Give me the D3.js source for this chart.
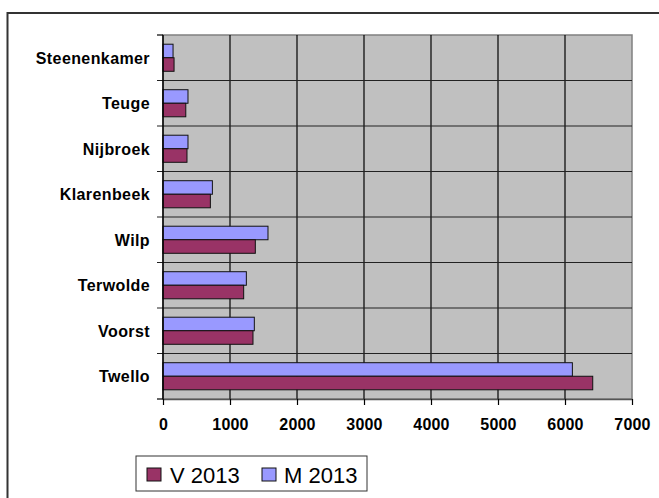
<!DOCTYPE html>
<html>
<head>
<meta charset="utf-8">
<script src="https://cdn.jsdelivr.net/npm/d3@7"></script>
<style>
  body { margin: 0; background: #fff; }
  svg { display: block; font-family: "Liberation Sans", Arial, sans-serif; }
</style>
</head>
<body>
<div class="chart"></div>
<script>
// categories top to bottom, as in the picture
const places = ["Steenenkamer", "Teuge", "Nijbroek", "Klarenbeek", "Wilp", "Terwolde", "Voorst", "Twello"];
const v2013 = [165, 340, 358, 707, 1378, 1204, 1343, 6414];
const m2013 = [150, 373, 373, 737, 1567, 1244, 1363, 6110];
const xTicks = [0, 1000, 2000, 3000, 4000, 5000, 6000, 7000];
const seriesNames = ["M 2013", "V 2013"];

const W = 659, H = 498;
const plot = { left: 163, right: 632, top: 35, bottom: 399 };

const svg = d3.select(".chart").append("svg")
  .attr("width", W)
  .attr("height", H);

// outer chart frame (right and bottom run off the picture)
svg.append("rect")
  .attr("x", 7.5).attr("y", 13)
  .attr("width", W + 10).attr("height", H + 10)
  .attr("fill", "none").attr("stroke", "#333").attr("stroke-width", 2);

const x = d3.scaleLinear().domain([0, 7000]).range([plot.left, plot.right]);
const y = d3.scaleBand().domain(places).range([plot.top, plot.bottom]);
const ySub = d3.scaleBand().domain(seriesNames).range([0, y.bandwidth()]).paddingOuter(0.68);

const colors = { "V 2013": "#993366", "M 2013": "#9999FF" };
const rows = places.map((p, i) => ({ place: p, "V 2013": v2013[i], "M 2013": m2013[i] }));

// plot background
svg.append("rect")
  .attr("x", plot.left).attr("y", plot.top)
  .attr("width", plot.right - plot.left).attr("height", plot.bottom - plot.top)
  .attr("fill", "#c0c0c0").attr("stroke", "#808080").attr("stroke-width", 1.5);

// vertical gridlines
svg.append("g").selectAll("line")
  .data(xTicks.slice(1, -1))
  .join("line")
  .attr("x1", d => x(d)).attr("x2", d => x(d))
  .attr("y1", plot.top).attr("y2", plot.bottom)
  .attr("stroke", "#000").attr("stroke-width", 1.2);

// horizontal lines between categories
svg.append("g").selectAll("line")
  .data(places.slice(1))
  .join("line")
  .attr("x1", plot.left - 6).attr("x2", plot.right)
  .attr("y1", d => y(d)).attr("y2", d => y(d))
  .attr("stroke", "#222").attr("stroke-width", 1.2);

// bars
const groups = svg.append("g").selectAll("g")
  .data(rows)
  .join("g")
  .attr("transform", d => `translate(0,${y(d.place)})`);

groups.selectAll("rect")
  .data(d => seriesNames.map(s => ({ s, v: d[s] })))
  .join("rect")
  .attr("x", x(0))
  .attr("y", d => ySub(d.s))
  .attr("width", d => x(d.v) - x(0))
  .attr("height", ySub.bandwidth())
  .attr("fill", d => colors[d.s])
  .attr("stroke", "#111").attr("stroke-width", 1);

// y axis
const yAxis = svg.append("g")
  .attr("transform", `translate(${plot.left},0)`);
yAxis.append("line")
  .attr("y1", plot.top).attr("y2", plot.bottom)
  .attr("stroke", "#000").attr("stroke-width", 1.5);
yAxis.selectAll("line.tk")
  .data([plot.top, plot.bottom])
  .join("line").attr("class", "tk")
  .attr("x1", -6).attr("x2", 0)
  .attr("y1", d => d).attr("y2", d => d)
  .attr("stroke", "#000").attr("stroke-width", 1.2);
yAxis.selectAll("text")
  .data(places)
  .join("text")
  .attr("x", -13)
  .attr("y", d => y(d) + y.bandwidth() / 2)
  .attr("dy", "0.36em")
  .attr("text-anchor", "end")
  .style("font-size", "16px").style("font-weight", "bold")
  .style("letter-spacing", "0.4px")
  .text(d => d);

// x axis
const xAxis = svg.append("g")
  .attr("transform", `translate(0,${plot.bottom})`)
  .call(d3.axisBottom(x).tickValues(xTicks).tickFormat(d3.format("d"))
    .tickSize(6).tickPadding(14).tickSizeOuter(0));
xAxis.select(".domain").attr("stroke", "#555").attr("stroke-width", 1.5);
xAxis.selectAll(".tick line").attr("stroke", "#000").attr("stroke-width", 1.2);
xAxis.selectAll(".tick text")
  .attr("fill", "#000")
  .style("font-family", "'Liberation Sans', Arial, sans-serif")
  .style("font-size", "16px").style("font-weight", "bold")
  .style("letter-spacing", "0.2px");

// legend
const legend = svg.append("g").attr("transform", "translate(136,456)");
legend.append("rect")
  .attr("width", 231).attr("height", 35)
  .attr("fill", "#fff").attr("stroke", "#333").attr("stroke-width", 1);
const legendItems = [
  { name: "V 2013", sx: 11, tx: 34 },
  { name: "M 2013", sx: 126, tx: 148 }
];
const li = legend.selectAll("g.item")
  .data(legendItems)
  .join("g").attr("class", "item");
li.append("rect")
  .attr("x", d => d.sx).attr("y", 12)
  .attr("width", 14).attr("height", 13)
  .attr("fill", d => colors[d.name])
  .attr("stroke", "#111");
li.append("text")
  .attr("x", d => d.tx).attr("y", 27)
  .style("font-size", "22px")
  .text(d => d.name);
</script>
</body>
</html>
